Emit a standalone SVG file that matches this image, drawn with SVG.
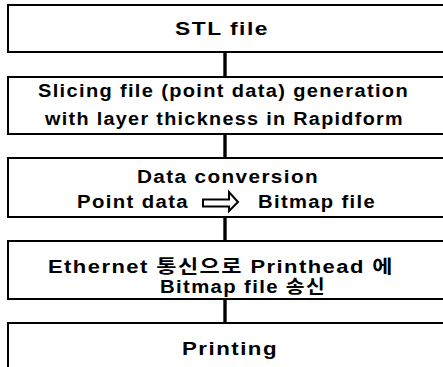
<svg xmlns="http://www.w3.org/2000/svg" width="443" height="367" viewBox="0 0 443 367">
<style>
.box{fill:#fff;stroke:#000;stroke-width:2}
.t{font-family:"Liberation Sans","Noto Sans CJK KR",Arial,sans-serif;font-weight:bold;font-size:18px;letter-spacing:1.2px;fill:#000}
.c{stroke:#000;stroke-width:3.4;fill:none}
</style>
<rect width="443" height="367" fill="#fff"/>
<g id="connectors">
<line class="c" x1="225" y1="52" x2="225" y2="77"/>
<line class="c" x1="225" y1="134" x2="225" y2="158"/>
<line class="c" x1="225" y1="217" x2="225" y2="241"/>
<line class="c" x1="225" y1="299" x2="225" y2="323"/>
</g>
<g id="n1">
<rect class="box" x="8" y="5" width="450" height="47"/>
<text class="t" x="175" y="35" textLength="94" lengthAdjust="spacingAndGlyphs">STL file</text>
</g>
<g id="n2">
<rect class="box" x="8" y="77" width="450" height="57"/>
<text class="t" x="38" y="97" textLength="371" lengthAdjust="spacingAndGlyphs">Slicing file (point data) generation</text>
<text class="t" x="45" y="125" textLength="359" lengthAdjust="spacingAndGlyphs">with layer thickness in Rapidform</text>
</g>
<g id="n3">
<rect class="box" x="8" y="158" width="450" height="59"/>
<text class="t" x="137" y="183" textLength="182" lengthAdjust="spacingAndGlyphs">Data conversion</text>
<text class="t" x="77" y="208" textLength="112" lengthAdjust="spacingAndGlyphs">Point data</text>
<polygon points="203,199.5 229,199.5 229,192 238,202 229,211 229,206.5 203,206.5" fill="#fff" stroke="#000" stroke-width="2"/>
<text class="t" x="258" y="208" textLength="118" lengthAdjust="spacingAndGlyphs">Bitmap file</text>
</g>
<g id="n4">
<rect class="box" x="8" y="241" width="450" height="58"/>
<text class="t" x="48" y="273" textLength="346" lengthAdjust="spacingAndGlyphs">Ethernet 통신으로 Printhead 에</text>
<text class="t" x="160" y="293" textLength="166" lengthAdjust="spacingAndGlyphs">Bitmap file 송신</text>
</g>
<g id="n5">
<rect class="box" x="8" y="323" width="450" height="60"/>
<text class="t" x="182" y="355" textLength="96" lengthAdjust="spacingAndGlyphs">Printing</text>
</g>
</svg>
